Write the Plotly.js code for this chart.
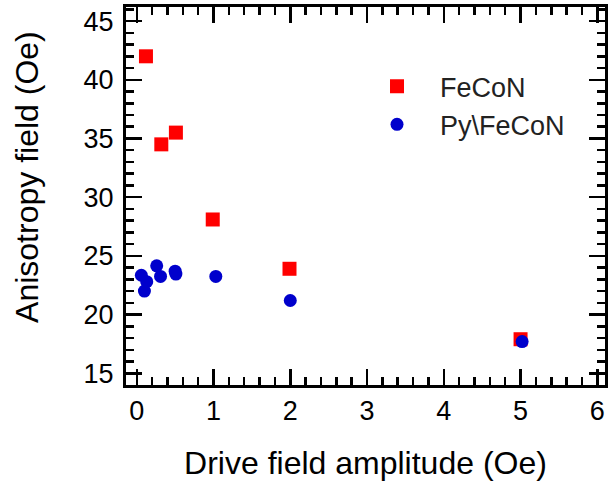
<!DOCTYPE html>
<html>
<head>
<meta charset="utf-8">
<script src="https://cdn.plot.ly/plotly-3.0.1.min.js"></script>
<style>html,body{margin:0;padding:0;background:#fff;}#chart{width:608px;height:489px;}</style>
</head>
<body>
<div id="chart"></div>
<script>
// FeCoN series
var fecon_x = [0.12, 0.32, 0.51, 0.99, 1.99, 5.0];
var fecon_y = [42.0, 34.5, 35.5, 28.1, 23.9, 17.9];
// Py\FeCoN series
var pyfecon_x = [0.06, 0.13, 0.10, 0.26, 0.31, 0.50, 0.51, 1.03, 2.00, 5.02];
var pyfecon_y = [23.35, 22.8, 22.0, 24.15, 23.25, 23.7, 23.45, 23.25, 21.2, 17.7];
var seriesNames = ['FeCoN', 'Py\\FeCoN'];
var xTickVals = [0, 1, 2, 3, 4, 5, 6];
var yTickVals = [15, 20, 25, 30, 35, 40, 45];

var FONT = '"Liberation Sans", Arial, Helvetica, sans-serif';

var traces = [
  {x: fecon_x, y: fecon_y, name: seriesNames[0], type: 'scatter', mode: 'markers',
   marker: {symbol: 'square', size: 14, color: '#ff0000'}},
  {x: pyfecon_x, y: pyfecon_y, name: seriesNames[1], type: 'scatter', mode: 'markers',
   marker: {symbol: 'circle', size: 13, color: '#0000cc'}}
];

var axisCommon = {
  showgrid: false, zeroline: false,
  showline: true, linecolor: '#000', linewidth: 3, mirror: 'allticks',
  ticks: 'inside', ticklen: 16, tickwidth: 2.5, tickcolor: '#000',
  tickfont: {family: FONT, size: 27, color: '#000'}
};

var layout = {
  width: 608, height: 489,
  margin: {l: 126, r: 3, t: 7, b: 104},
  paper_bgcolor: '#fff', plot_bgcolor: '#fff',
  font: {family: FONT, color: '#000'},
  showlegend: true,
  legend: {x: 0.476, y: 0.854, xanchor: 'left', yanchor: 'top',
           bgcolor: 'rgba(0,0,0,0)', itemwidth: 76,
           font: {family: FONT, size: 27, color: '#222'}},
  xaxis: Object.assign({}, axisCommon, {
    range: [-0.14, 6.1], tickvals: xTickVals, ticktext: xTickVals.map(String),
    minor: {dtick: 0.2, tick0: 0, ticks: 'inside', ticklen: 8, tickwidth: 2.5, tickcolor: '#000'},
    title: {text: 'Drive field amplitude (Oe)', font: {family: FONT, size: 32, color: '#000'}, standoff: 27}
  }),
  yaxis: Object.assign({}, axisCommon, {
    range: [14, 46.2], tickvals: yTickVals, ticktext: yTickVals.map(String),
    minor: {dtick: 1, tick0: 0, ticks: 'inside', ticklen: 8, tickwidth: 2.5, tickcolor: '#000'},
    ticklabelstandoff: 4
  }),
  annotations: [
    {text: 'Anisotropy field (Oe)', xref: 'paper', yref: 'paper', x: -0.207, y: 0.55,
     xanchor: 'center', yanchor: 'middle', textangle: -90, showarrow: false,
     font: {family: FONT, size: 32, color: '#000'}}
  ]
};

Plotly.newPlot('chart', traces, layout, {displayModeBar: false, staticPlot: true});
</script>
</body>
</html>
